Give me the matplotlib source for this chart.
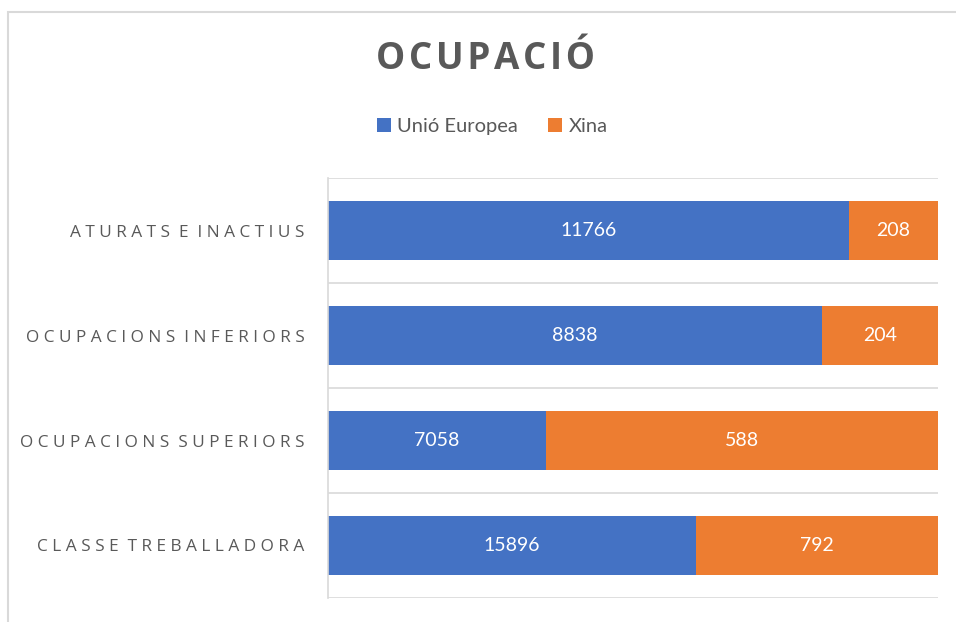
import matplotlib.pyplot as plt
from matplotlib.patches import Rectangle

# categories, bottom to top as drawn
categories = ['CLASSE TREBALLADORA', 'OCUPACIONS SUPERIORS',
              'OCUPACIONS INFERIORS', 'ATURATS E INACTIUS']
# values printed on the bars
eu_values = [15896, 7058, 8838, 11766]
xina_values = [792, 588, 204, 208]
# share of each bar (percent) as drawn in the 100% stacked chart
eu_share = [60.4, 35.8, 81.0, 85.4]
xina_share = [39.6, 64.2, 19.0, 14.6]

blue = '#4472C4'
orange = '#ED7D31'
grey_text = '#595959'
grid_col = '#D9D9D9'


def spaced(s, sep=' '):
    # fake letter spacing
    return sep.join(s).replace(sep + ' ' + sep, '  ')


fig = plt.figure(figsize=(9.56, 6.22), dpi=100)
ax = fig.add_axes([0.343, 0.0386, 0.638, 0.6752])

y = range(len(categories))
ax.barh(y, eu_share, height=0.56, color=blue, label='Unió Europea')
ax.barh(y, xina_share, left=eu_share, height=0.56, color=orange, label='Xina')

for i in y:
    ax.text(eu_share[i] / 2, i, str(eu_values[i]), ha='center', va='center',
            color='white', fontsize=14, family='Lato')
    ax.text(eu_share[i] + xina_share[i] / 2, i, str(xina_values[i]),
            ha='center', va='center', color='white', fontsize=14, family='Lato')

ax.set_xlim(0, 100)
ax.set_ylim(-0.5, len(categories) - 0.5)
ax.set_xticks([])
ax.set_yticks(list(y))
ax.set_yticklabels([spaced(c) for c in categories], fontsize=12.4,
                   color=grey_text, family='Open Sans')
ax.tick_params(axis='y', length=0, pad=17)

# gridlines between categories
for b in [-0.5, 0.5, 1.5, 2.5, 3.5]:
    ax.axhline(b, color=grid_col, lw=1.2, zorder=0)
for side in ['top', 'right', 'bottom']:
    ax.spines[side].set_visible(False)
ax.spines['left'].set_color(grid_col)
ax.spines['left'].set_linewidth(1.2)

fig.text(0.508, 0.905, spaced('OCUPACIÓ', '\u200a'), ha='center', va='center',
         fontsize=26.5, fontweight='bold', color=grey_text,
         family=['Open Sans', 'DejaVu Sans'])

ax.legend(loc='center', bbox_to_anchor=(0.515, 0.797), bbox_transform=fig.transFigure,
          ncol=2, frameon=False, handlelength=0.7, handleheight=0.7,
          handletextpad=0.3, columnspacing=1.5,
          prop={'family': 'Lato', 'size': 14.5}, labelcolor=grey_text)

# chart frame (partly cropped)
fig.patches.append(Rectangle((0.008, -0.1), 1.2, 1.08, transform=fig.transFigure,
                             fill=False, edgecolor=grid_col, lw=1.5))

fig.savefig('out.png', dpi=100)
